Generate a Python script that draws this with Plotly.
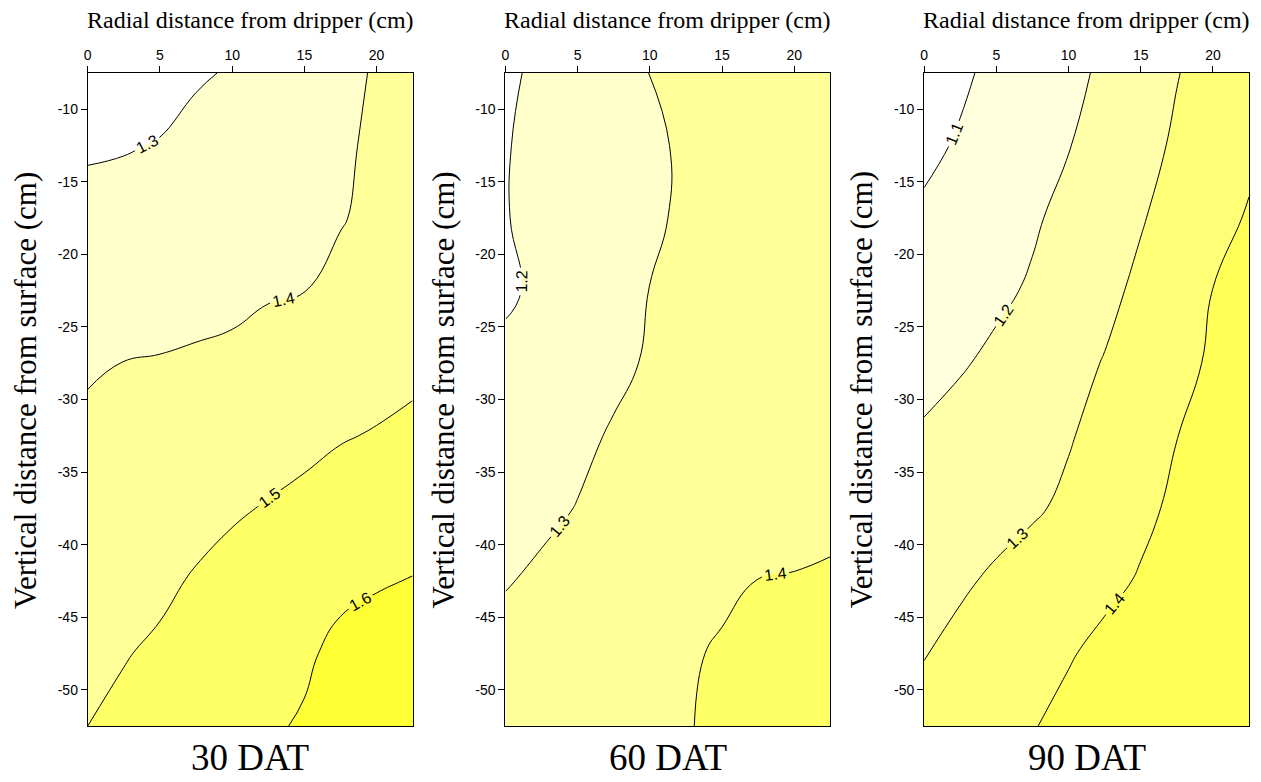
import plotly.graph_objects as go

# Grid (radial distance, depth)
x_cm = [0, 2.5, 5, 7.5, 10, 12.5, 15, 17.5, 20, 22.5]
y_cm = [-7.5, -12.5, -17.5, -22.5, -27.5, -32.5, -37.5, -42.5, -47.5, -52.5]
x_ticks = [0, 5, 10, 15, 20]
y_ticks = [-10, -15, -20, -25, -30, -35, -40, -45, -50]

# Values (rows = depths, cols = radial distances)
z_30dat = [
    [1.257, 1.260, 1.270, 1.293, 1.305, 1.337, 1.361, 1.385, 1.405, 1.420],
    [1.291, 1.295, 1.304, 1.319, 1.332, 1.356, 1.374, 1.391, 1.410, 1.437],
    [1.324, 1.330, 1.338, 1.349, 1.358, 1.375, 1.387, 1.395, 1.420, 1.454],
    [1.358, 1.366, 1.372, 1.378, 1.384, 1.394, 1.399, 1.423, 1.440, 1.471],
    [1.391, 1.401, 1.404, 1.409, 1.414, 1.427, 1.440, 1.459, 1.470, 1.482],
    [1.416, 1.425, 1.431, 1.442, 1.453, 1.467, 1.481, 1.495, 1.505, 1.517],
    [1.437, 1.448, 1.458, 1.474, 1.491, 1.505, 1.518, 1.535, 1.549, 1.560],
    [1.457, 1.472, 1.485, 1.507, 1.525, 1.532, 1.551, 1.576, 1.593, 1.603],
    [1.479, 1.496, 1.512, 1.530, 1.550, 1.560, 1.584, 1.625, 1.635, 1.640],
    [1.500, 1.517, 1.535, 1.552, 1.570, 1.587, 1.610, 1.632, 1.645, 1.655],
]
z_60dat = [
    [1.187, 1.215, 1.244, 1.272, 1.301, 1.310, 1.318, 1.327, 1.336, 1.345],
    [1.196, 1.220, 1.243, 1.267, 1.291, 1.3075, 1.320, 1.3325, 1.345, 1.357],
    [1.197, 1.220, 1.244, 1.267, 1.291, 1.309, 1.323, 1.337, 1.351, 1.365],
    [1.1875, 1.216, 1.244, 1.273, 1.301, 1.315, 1.330, 1.344, 1.359, 1.373],
    [1.219, 1.242, 1.264, 1.287, 1.306, 1.321, 1.336, 1.351, 1.365, 1.375],
    [1.243, 1.265, 1.287, 1.3055, 1.319, 1.333, 1.347, 1.361, 1.370, 1.380],
    [1.270, 1.2865, 1.302, 1.316, 1.329, 1.342, 1.355, 1.369, 1.380, 1.390],
    [1.296, 1.311, 1.326, 1.341, 1.356, 1.371, 1.386, 1.401, 1.403, 1.405],
    [1.323, 1.337, 1.350, 1.364, 1.378, 1.391, 1.408, 1.412, 1.415, 1.418],
    [1.350, 1.359, 1.369, 1.378, 1.388, 1.397, 1.410, 1.414, 1.418, 1.422],
]
z_90dat = [
    [1.050, 1.087, 1.119, 1.149, 1.180, 1.213, 1.255, 1.297, 1.329, 1.360],
    [1.082, 1.108, 1.138, 1.168, 1.197, 1.235, 1.274, 1.311, 1.347, 1.382],
    [1.113, 1.139, 1.164, 1.190, 1.222, 1.258, 1.294, 1.332, 1.370, 1.4075],
    [1.145, 1.165, 1.185, 1.209, 1.244, 1.279, 1.317, 1.359, 1.401, 1.425],
    [1.177, 1.193, 1.216, 1.245, 1.274, 1.304, 1.341, 1.378, 1.410, 1.435],
    [1.208, 1.229, 1.251, 1.272, 1.294, 1.326, 1.363, 1.399, 1.425, 1.445],
    [1.238, 1.255, 1.273, 1.290, 1.315, 1.349, 1.384, 1.413, 1.438, 1.455],
    [1.267, 1.289, 1.312, 1.336, 1.359, 1.382, 1.406, 1.431, 1.450, 1.465],
    [1.297, 1.322, 1.346, 1.370, 1.394, 1.419, 1.440, 1.455, 1.465, 1.475],
    [1.327, 1.350, 1.373, 1.396, 1.421, 1.440, 1.455, 1.468, 1.478, 1.485],
]

panel_titles = ["30 DAT", "60 DAT", "90 DAT"]
levels = [(1.3, 1.6), (1.2, 1.4), (1.1, 1.4)]
band_colors = [
    ["#FFFFFF", "#FFFFCC", "#FFFF99", "#FFFF66", "#FFFF33"],
    ["#FFFFFF", "#FFFFCC", "#FFFF99", "#FFFF66"],
    ["#FFFFFF", "#FFFFDD", "#FFFFAA", "#FFFF77", "#FFFF55"],
]
xlabel = "Radial distance from dripper (cm)"
ylabel = "Vertical distance from surface (cm)"

W, H = 1261, 782
left_px = [84, 503, 923]
plot_w = 326
top_px, bot_px = 73, 726

serif = "Liberation Serif, Times New Roman, serif"
sans = "Liberation Sans, Arial, sans-serif"

fig = go.Figure()
zs = [z_30dat, z_60dat, z_90dat]
for i in range(3):
    lo, hi = levels[i]
    cols = band_colors[i]
    n = len(cols) - 1
    cs = [[k / n, c] for k, c in enumerate(cols)]
    sfx = "" if i == 0 else str(i + 1)
    fig.add_trace(go.Contour(
        x=x_cm, y=y_cm, z=zs[i],
        xaxis="x" + sfx, yaxis="y" + sfx,
        colorscale=cs, showscale=False,
        contours=dict(start=lo, end=hi + 1e-4, size=0.1, coloring="fill",
                      showlabels=True, labelformat=".1f",
                      labelfont=dict(family=sans, size=16, color="black")),
        line=dict(color="black", width=1, smoothing=1.3),
        hoverinfo="skip",
    ))

    ax = dict(domain=[left_px[i] / W, (left_px[i] + plot_w) / W],
              range=[0, 22.5], side="top", tickvals=x_ticks,
              ticktext=[str(v) for v in x_ticks],
              ticks="outside", ticklen=6, tickcolor="black",
              showline=True, linecolor="black", linewidth=1, mirror=True,
              showgrid=False, zeroline=False,
              tickfont=dict(family=sans, size=14, color="black"),
              anchor="y" + sfx)
    ay = dict(domain=[1 - bot_px / H, 1 - top_px / H],
              range=[-52.5, -7.5], tickvals=y_ticks,
              ticktext=[str(v) for v in y_ticks],
              ticks="outside", ticklen=6, tickcolor="black",
              showline=True, linecolor="black", linewidth=1, mirror=True,
              showgrid=False, zeroline=False,
              tickfont=dict(family=sans, size=14, color="black"),
              anchor="x" + sfx)
    fig.update_layout(**{"xaxis" + sfx: ax, "yaxis" + sfx: ay})

    cx = (left_px[i] + plot_w / 2) / W
    fig.add_annotation(x=cx, y=1 - 20 / H, xref="paper", yref="paper",
                       xanchor="center", yanchor="middle",
                       text=xlabel, showarrow=False,
                       font=dict(family=serif, size=24, color="black"))
    fig.add_annotation(x=(left_px[i] - 63) / W, y=1 - 390 / H, xref="paper", yref="paper",
                       xanchor="center", yanchor="middle",
                       text=ylabel, showarrow=False, textangle=-90,
                       font=dict(family=serif, size=31, color="black"))
    fig.add_annotation(x=cx, y=1 - 757 / H, xref="paper", yref="paper",
                       xanchor="center", yanchor="middle",
                       text=panel_titles[i], showarrow=False,
                       font=dict(family=serif, size=37, color="black"))

fig.update_layout(width=W, height=H, margin=dict(l=0, r=0, t=0, b=0),
                  paper_bgcolor="white", plot_bgcolor="white", showlegend=False)
fig.write_html("out.html", config={"displayModeBar": False},
               post_script="document.body.style.margin='0';document.body.style.overflow='hidden';")
